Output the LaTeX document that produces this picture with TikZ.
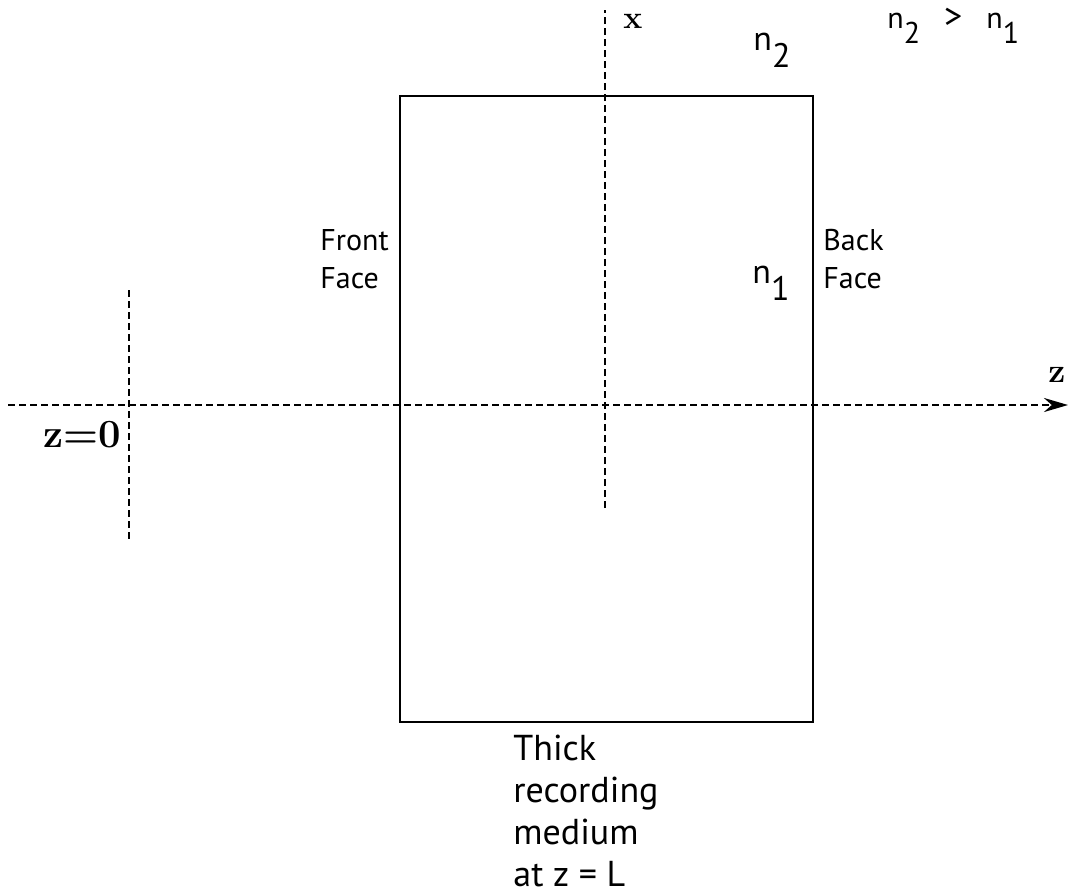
\documentclass[tikz,border=0pt]{standalone}
\usepackage{fontspec}
\setmainfont{PT Sans}
\newfontfamily\lmr{Latin Modern Roman}
\usetikzlibrary{arrows.meta}
\newcommand{\nidx}[1]{n\raisebox{-0.5em}{#1}}
\begin{document}
\begin{tikzpicture}[x=0.5pt, y=-0.5pt,
	axis/.style={line width=1.3pt, dash pattern=on 3.5pt off 2pt},
	lbl/.style={inner sep=0pt, anchor=base west},
	face/.style={inner sep=0pt, anchor=north west, align=left, font=\fontsize{15}{19}\selectfont}]
		\useasboundingbox (0,0) rectangle (1069,894);
		% recording medium
		\draw[line width=1.3pt] (400,96) rectangle (813,722);
		% axes
		\coordinate (zs) at (8,405);
		\coordinate (ze) at (1068,405);
		\coordinate (xs) at (605,508);
		\coordinate (xe) at (605,10);
		\coordinate (os) at (129,290);
		\coordinate (oe) at (129,541);
		\draw[axis, -{Stealth[length=12pt, width=7pt]}] (zs) -- (ze);
		\draw[axis] (xs) -- (xe);
		\draw[axis] (os) -- (oe);
		\node[lbl, font=\lmr\bfseries\fontsize{16}{16}\selectfont] (xlab) at (623,28) {x};
		\node[lbl, font=\lmr\bfseries\fontsize{17}{17}\selectfont] (zlab) at (1048,382) {z};
		\node[inner sep=0pt, anchor=base east, font=\lmr\bfseries\fontsize{20}{20}\selectfont] (zero) at (121,447) {z=0};
		% indices
		\node[lbl, font=\fontsize{17}{17}\selectfont] (ntwo) at (753,50) {\nidx{2}};
		\node[lbl, font=\fontsize{17}{17}\selectfont] (none) at (752,283) {\nidx{1}};
		\node[lbl, font=\fontsize{15}{15}\selectfont] (rel) at (887,28) {\nidx{2}\hspace{0.8em}{\fontsize{18}{18}\selectfont>}\hspace{0.8em}\nidx{1}};
		% faces
		\node[face] (front) at (320,229) {Front\\Face};
		\node[face] (back) at (823,229) {Back\\Face};
		\node[face, font=\fontsize{18}{21}\selectfont] (medium) at (513,735) {Thick\\recording\\medium\\at z = L};
	\end{tikzpicture}
\end{document}
